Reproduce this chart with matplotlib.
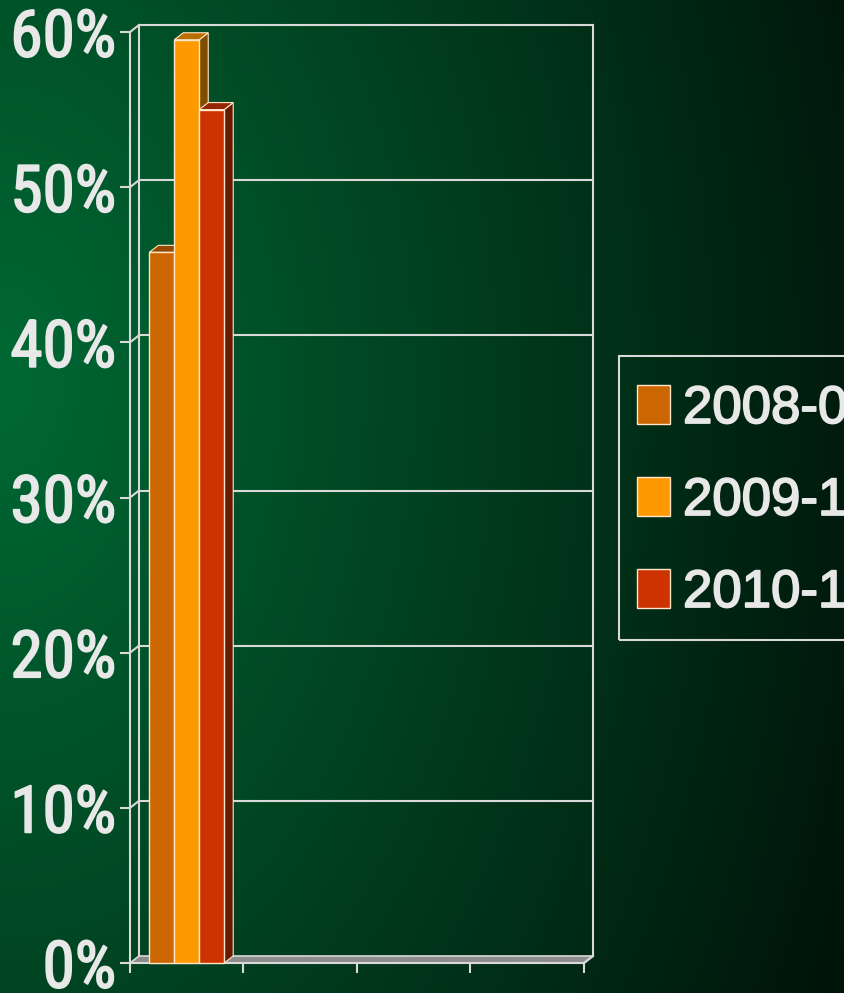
import matplotlib
matplotlib.use("Agg")
import matplotlib.pyplot as plt
import matplotlib.patheffects as pe
import numpy as np
from matplotlib import font_manager
from matplotlib.patches import Polygon, Patch, Rectangle

# pick a narrow font for the axis labels if one is installed
font, tick_fs = 'Liberation Sans', 38
for name in ['Liberation Sans Narrow', 'Roboto Condensed', 'DejaVu Sans Condensed', 'Open Sans Condensed']:
    try:
        font_manager.findfont(font_manager.FontProperties(family=name), fallback_to_default=False)
        font, tick_fs = name, 47
        break
    except ValueError:
        pass
plt.rcParams['font.family'] = [font, 'DejaVu Sans']
leg_fs = 38

# data
series = ['2008-09', '2009-10', '2010-11']
values = {
    '2008-09': [45.8, 0, 0, 0],
    '2009-10': [59.5, 0, 0, 0],
    '2010-11': [55.0, 0, 0, 0],
}
colors = ['#CC6600', '#FF9900', '#CC3300']
yticks = [0, 10, 20, 30, 40, 50, 60]
ncat = 4

W, H = 844, 993
fig = plt.figure(figsize=(W / 100, H / 100), dpi=100)

# background gradient
bg = fig.add_axes([0, 0, 1, 1], zorder=-10)
xx, yy = np.meshgrid(np.arange(W), np.arange(H))
t = np.sqrt((xx / 1050.0) ** 2 + ((yy - 380) / 1600.0) ** 2)
t = np.clip(t, 0, 1)
c0 = np.array([0, 105, 52]) / 255.0
c1 = np.array([0, 8, 4]) / 255.0
img = c0[None, None, :] * (1 - t[..., None]) + c1[None, None, :] * t[..., None]
bg.imshow(img, aspect='auto', extent=[0, W, H, 0])
bg.axis('off')

line_c = '#D9D9D9'
edge_c = '#FFE6C8'
txt_c = '#E8E8E8'
thick = [pe.withStroke(linewidth=1.3, foreground=txt_c)]

ax = fig.add_axes([130 / W, 30 / H, 454 / W, 931 / H])
ax.set_facecolor('none')
ax.set_xlim(0, ncat)
ax.set_ylim(0, 60)

# depth of the 3d box in data units
dx = 9 / (454 / ncat)
dy = 7 / (931 / 60)

# floor
ax.add_patch(Polygon([(0, 0), (ncat, 0), (ncat + dx, dy), (dx, dy)], closed=True,
                     facecolor='#8C8C8C', edgecolor=line_c, lw=1.2, clip_on=False, zorder=1))
# back wall + gridlines
kw = dict(color=line_c, lw=1.5, clip_on=False, zorder=1)
ax.plot([dx, dx], [dy, 60 + dy], **kw)
ax.plot([ncat + dx, ncat + dx], [dy, 60 + dy], **kw)
for v in yticks[1:]:
    ax.plot([dx, ncat + dx], [v + dy, v + dy], **kw)
    ax.plot([0, dx], [v, v + dy], **kw)
ax.plot([ncat, ncat + dx], [0, dy], **kw)

# 3d bars
w = 0.22
for j, (s, col) in enumerate(zip(series, colors)):
    rgb = np.array(matplotlib.colors.to_rgb(col))
    for i, v in enumerate(values[s]):
        if v <= 0:
            continue
        xc = i + 0.5 + (j - 1) * w
        x0, x1 = xc - w / 2, xc + w / 2
        side = Polygon([(x1, 0), (x1 + dx, dy), (x1 + dx, v + dy), (x1, v)], closed=True,
                       facecolor=rgb * 0.5, edgecolor=edge_c, lw=0.8, clip_on=False, zorder=3)
        top = Polygon([(x0, v), (x1, v), (x1 + dx, v + dy), (x0 + dx, v + dy)], closed=True,
                      facecolor=rgb * 0.72, edgecolor=edge_c, lw=0.8, clip_on=False, zorder=3)
        ax.add_patch(side)
        ax.add_patch(top)
        ax.bar(xc, v, width=w, color=col, edgecolor=edge_c, lw=1.0, zorder=3, clip_on=False)

# axes styling
for sp in ['top', 'right']:
    ax.spines[sp].set_visible(False)
for sp in ['left', 'bottom']:
    ax.spines[sp].set_color(line_c)
    ax.spines[sp].set_linewidth(1.5)
    ax.spines[sp].set_zorder(2)
ax.set_yticks(yticks)
ax.set_yticklabels(['%d%%' % v for v in yticks])
ax.set_xticks(range(ncat + 1))
ax.set_xticklabels([])
ax.tick_params(axis='both', colors=line_c, length=7.5, width=1.5, direction='out')
ax.tick_params(axis='y', labelsize=tick_fs, labelcolor=txt_c, pad=2.5)
for lab in ax.get_yticklabels():
    lab.set_path_effects(thick)

# legend: frame drawn as its own box, entries placed inside
fig.add_artist(Rectangle((619 / W, 1 - 640 / H), 260 / W, 284 / H, transform=fig.transFigure,
                         facecolor='none', edgecolor=line_c, lw=1.5, clip_on=False))
em = leg_fs * 100 / 72
handles = [Patch(facecolor=c, edgecolor=edge_c, lw=1.0) for c in colors]
leg = fig.legend(handles, series, loc='upper left', bbox_to_anchor=(637 / W, 1 - 384 / H),
                 bbox_transform=fig.transFigure, frameon=False,
                 prop={'family': ['Liberation Sans', 'DejaVu Sans'], 'size': leg_fs},
                 handlelength=33 / em, handleheight=41 / em,
                 handletextpad=13 / em, labelspacing=42 / em,
                 borderpad=0, borderaxespad=0)
for tx in leg.get_texts():
    tx.set_color(txt_c)
    tx.set_path_effects(thick)

fig.savefig('out.png', dpi=100)
